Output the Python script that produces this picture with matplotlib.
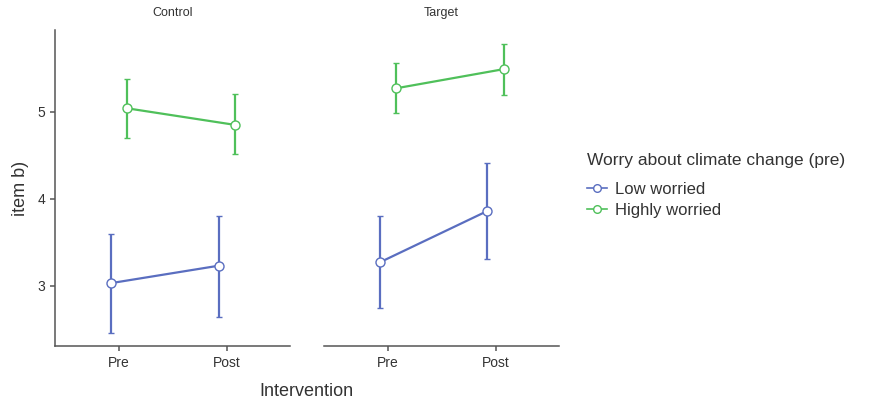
import numpy as np
import matplotlib.pyplot as plt
from matplotlib.lines import Line2D

plt.rcParams['font.family'] = ['Liberation Sans', 'DejaVu Sans']

# data
panels = ["Control", "Target"]
times = ["Pre", "Post"]
groups = ["Low worried", "Highly worried"]
colors = ["#5A6EC0", "#4FC05A"]

mean = {
    "Control": {"Low worried": [3.03, 3.23], "Highly worried": [5.04, 4.85]},
    "Target": {"Low worried": [3.27, 3.86], "Highly worried": [5.27, 5.49]},
}
lower = {
    "Control": {"Low worried": [2.46, 2.64], "Highly worried": [4.70, 4.51]},
    "Target": {"Low worried": [2.74, 3.31], "Highly worried": [4.99, 5.19]},
}
upper = {
    "Control": {"Low worried": [3.60, 3.80], "Highly worried": [5.38, 5.20]},
    "Target": {"Low worried": [3.80, 4.41], "Highly worried": [5.56, 5.78]},
}

fig = plt.figure(figsize=(8.69, 4.03), dpi=100)
ax_left = fig.add_axes([0.0633, 0.1414, 0.2704, 0.7841])
ax_right = fig.add_axes([0.3728, 0.1414, 0.2704, 0.7841], sharey=ax_left)
axes = [ax_left, ax_right]

x = np.arange(1, len(times) + 1)
dodge = [-0.075, 0.075]
grey = "#555555"

for ax, panel in zip(axes, panels):
    for g, grp, col in zip(range(2), groups, colors):
        m = np.array(mean[panel][grp])
        lo = m - np.array(lower[panel][grp])
        hi = np.array(upper[panel][grp]) - m
        xs = x + dodge[g]
        ax.errorbar(xs, m, yerr=[lo, hi], color=col, lw=1.6, elinewidth=1.6,
                    capsize=2, capthick=1.6, marker="o", markersize=6.5,
                    markerfacecolor="white", markeredgecolor=col,
                    markeredgewidth=1.0, zorder=3)
    ax.set_xlim(0.404, 2.59)
    ax.set_xticks(x)
    ax.set_xticklabels(times, fontsize=10, color="#333333")
    ax.set_title(panel, fontsize=9, color="#333333", pad=10)
    for s in ["top", "right"]:
        ax.spines[s].set_visible(False)
    ax.spines["bottom"].set_color(grey)
    ax.spines["left"].set_color(grey)
    ax.spines["bottom"].set_linewidth(1.1)
    ax.spines["left"].set_linewidth(1.1)
    ax.tick_params(colors=grey, length=3.5, width=1.1, labelcolor="#333333")

ax_left.set_ylim(2.307, 5.94)
ax_left.set_yticks([3, 4, 5])
ax_left.tick_params(axis="y", labelsize=10)
ax_left.set_ylabel("item b)", fontsize=13, color="#333333", labelpad=6)

ax_right.spines["left"].set_visible(False)
ax_right.tick_params(axis="y", left=False, labelleft=False)

fig.text(0.353, 0.018, "Intervention", fontsize=13, color="#333333", ha="center")

handles = [Line2D([0], [0], color=c, lw=1.2, marker="o", markersize=5.5,
                  markerfacecolor="white", markeredgecolor=c) for c in colors]
leg = fig.legend(handles, groups, title="Worry about climate change (pre)",
                 loc="upper left", bbox_to_anchor=(0.668, 0.637), frameon=False,
                 fontsize=12, title_fontsize=12.5, handlelength=1.2,
                 handletextpad=0.5, labelspacing=0.35, borderaxespad=0)
leg._legend_box.align = "left"
leg._legend_box.sep = 10
for t in leg.get_texts():
    t.set_color("#333333")
leg.get_title().set_color("#333333")

fig.savefig("out.png", dpi=100)
